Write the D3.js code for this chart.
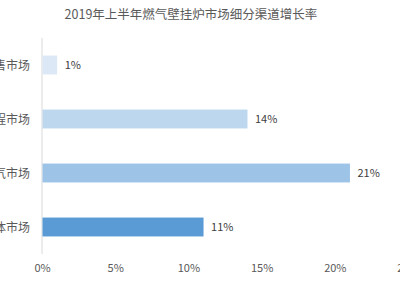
<!DOCTYPE html>
<html><head><meta charset="utf-8">
<script src="https://cdn.jsdelivr.net/npm/d3@7"></script>
<style>body{margin:0;background:#fff;}svg{display:block;}</style>
</head><body>
<svg id="c" width="400" height="300"></svg>
<script>
const categories = ["零售市场", "工程市场", "煤改气市场", "整体市场"];
const values = [1, 14, 21, 11];
const barColors = ["#dce8f5", "#bdd7ee", "#9dc3e6", "#5b9bd5"];
const tickValues = [0, 5, 10, 15, 20, 25];
const title = "2019年上半年燃气壁挂炉市场细分渠道增长率";

const svg = d3.select("#c");
const font = "'Microsoft YaHei','Noto Sans CJK SC',sans-serif";
const x = d3.scaleLinear().domain([0, 25]).range([42, 408]);
const y = d3.scaleBand().domain(categories).range([38, 254]).paddingInner(0.65).paddingOuter(0.325);

svg.append("text").attr("x", 191).attr("y", 19).attr("text-anchor", "middle")
  .attr("font-family", font).attr("font-size", 12.5).attr("fill", "#595959").text(title);

svg.append("line").attr("x1", x(0)).attr("x2", x(0)).attr("y1", 38).attr("y2", 254)
  .attr("stroke", "#d9d9d9").attr("stroke-width", 1);

svg.selectAll("rect.bar").data(values).enter().append("rect")
  .attr("x", x(0) + 0.5).attr("y", (d, i) => y(categories[i]))
  .attr("width", d => x(d) - x(0)).attr("height", y.bandwidth())
  .attr("fill", (d, i) => barColors[i]);

svg.selectAll("text.val").data(values).enter().append("text")
  .attr("x", d => x(d) + 8).attr("y", (d, i) => y(categories[i]) + y.bandwidth() / 2 + 4)
  .attr("font-family", font).attr("font-size", 11).attr("fill", "#404040").text(d => d + "%");

svg.selectAll("text.cat").data(categories).enter().append("text")
  .attr("x", 30).attr("y", d => y(d) + y.bandwidth() / 2 + 4.5).attr("text-anchor", "end")
  .attr("font-family", font).attr("font-size", 12).attr("fill", "#595959").text(d => d);

const axis = d3.axisBottom(x).tickValues(tickValues).tickFormat(d => d + "%").tickSize(0).tickPadding(0);
const g = svg.append("g").attr("transform", "translate(0,272)").call(axis);
g.select(".domain").remove();
g.selectAll("text").attr("font-family", font).attr("font-size", 11).attr("fill", "#595959").attr("dy", 0);
</script>
</body></html>
